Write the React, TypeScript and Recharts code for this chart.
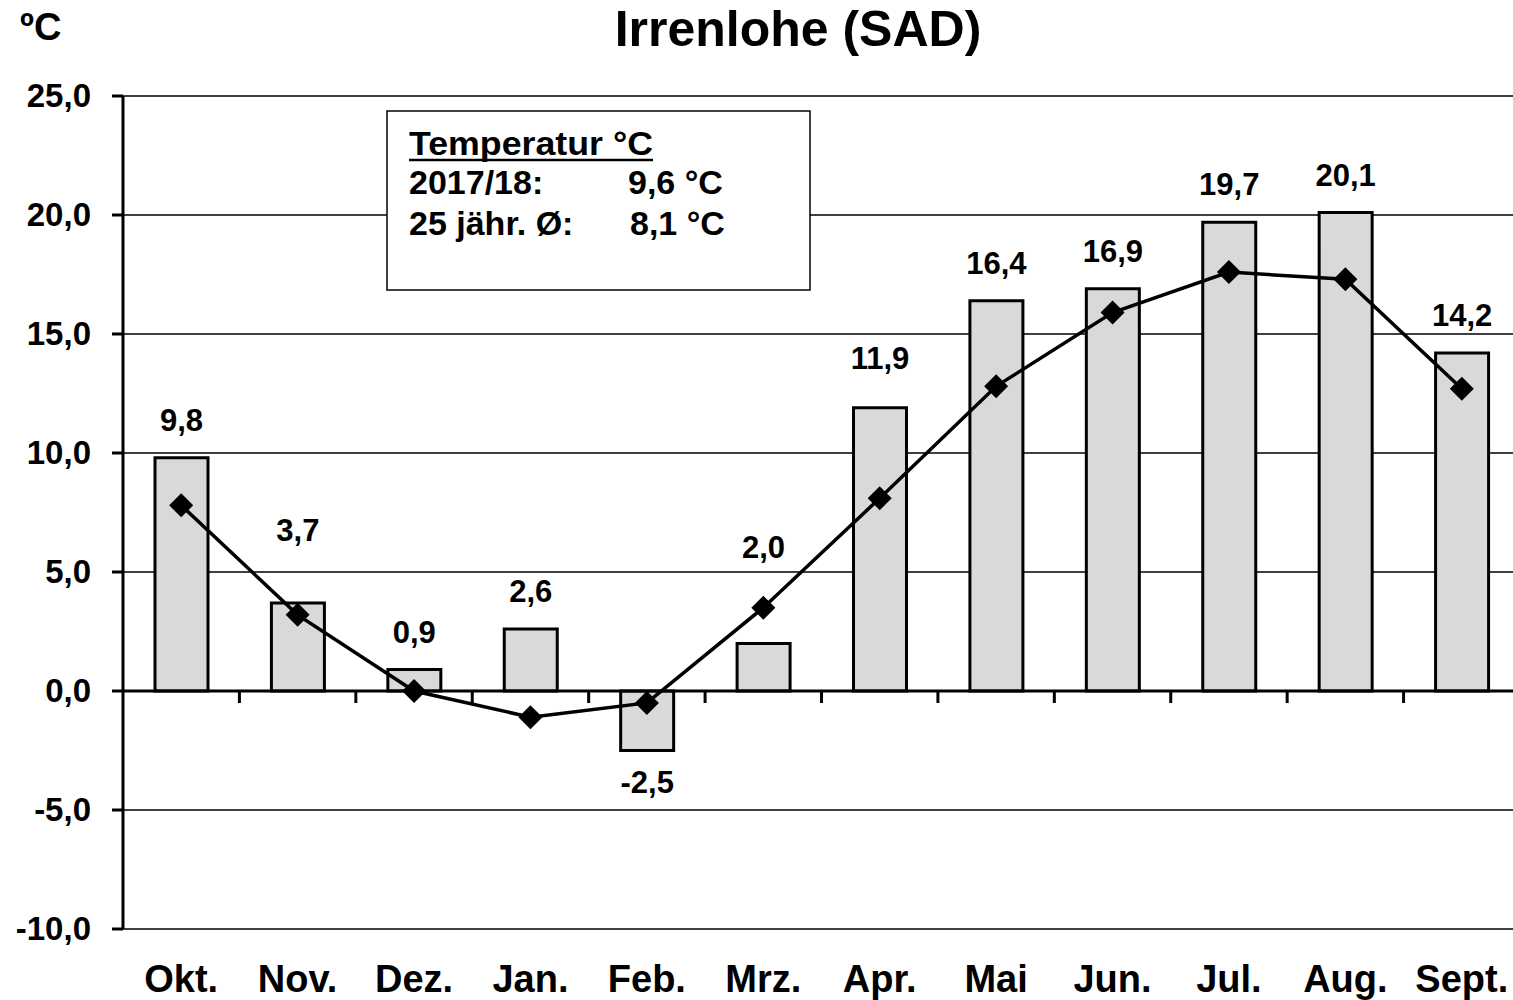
import React from 'react';
import { ComposedChart, Bar, Line, XAxis, YAxis, CartesianGrid, ReferenceLine, LabelList } from 'recharts';

const months = ['Okt.', 'Nov.', 'Dez.', 'Jan.', 'Feb.', 'Mrz.', 'Apr.', 'Mai', 'Jun.', 'Jul.', 'Aug.', 'Sept.'];
const temp1718 = [9.8, 3.7, 0.9, 2.6, -2.5, 2.0, 11.9, 16.4, 16.9, 19.7, 20.1, 14.2];
const avg25 = [7.8, 3.2, 0.0, -1.1, -0.5, 3.5, 8.1, 12.8, 15.9, 17.6, 17.3, 12.7];
const yTicks = [-10, -5, 0, 5, 10, 15, 20, 25];

const data = months.map((m, i) => ({ month: m, year: temp1718[i], avg: avg25[i] }));

const FONT = '"Liberation Sans", Arial, sans-serif';
const fmt = (v: number) => v.toFixed(1).replace('.', ',');

// labels that Excel had nudged upward out of the way of the line
const labelLift: Record<string, number> = { 'Nov.': 73, 'Mrz.': 96, 'Apr.': 50 };

const YTick = (props: any) => {
  const { x, y, payload } = props;
  return (
    <text x={x - 21} y={y + 11} textAnchor="end" fontFamily={FONT} fontWeight="bold" fontSize={33} fill="#000">
      {fmt(payload.value)}
    </text>
  );
};

const XTick = (props: any) => {
  const { x, y, payload } = props;
  return (
    <text x={x} y={y + 63} textAnchor="middle" fontFamily={FONT} fontWeight="bold" fontSize={38} fill="#000">
      {payload.value}
    </text>
  );
};

const ZeroAxis = (props: any) => {
  const { x1, x2, y1 } = props;
  const w = (x2 - x1) / months.length;
  return (
    <g>
      <line x1={x1} x2={x2} y1={y1} y2={y1} stroke="#000" strokeWidth={3} />
      {months.slice(1).map((m, i) => (
        <line key={m} x1={x1 + (i + 1) * w} x2={x1 + (i + 1) * w} y1={y1} y2={y1 + 12} stroke="#000" strokeWidth={3} />
      ))}
    </g>
  );
};

const Diamond = (props: any) => {
  const { cx, cy } = props;
  if (cx == null || cy == null) return null;
  const r = 12;
  return <polygon points={`${cx},${cy - r} ${cx + r},${cy} ${cx},${cy + r} ${cx - r},${cy}`} fill="#000" />;
};

const BarLabel = (props: any) => {
  const { x, y, width, height, value, index } = props;
  const top = Math.min(y, y + height);
  const bottom = Math.max(y, y + height);
  const cx = x + width / 2;
  const cy = value < 0 ? bottom + 31 : top - (labelLift[months[index]] ?? 38);
  return (
    <text x={cx} y={cy + 11} textAnchor="middle" fontFamily={FONT} fontWeight="bold" fontSize={31} fill="#000">
      {fmt(value)}
    </text>
  );
};

export default function App() {
  return (
    <div style={{ position: 'absolute', left: 0, top: 0, width: 1513, height: 1000, overflow: 'hidden', background: '#fff' }}>
      <ComposedChart width={1530} height={1000} data={data} margin={{ top: 96, right: 10, bottom: 0, left: 0 }} barGap={0}>
        <CartesianGrid vertical={false} stroke="#000" strokeWidth={1.5} />
        <XAxis dataKey="month" axisLine={false} tickLine={false} tickSize={0} tickMargin={0} height={71} tick={<XTick />} interval={0} />
        <YAxis
          domain={[-10, 25]}
          ticks={yTicks}
          width={123}
          tickSize={11}
          tickMargin={0}
          axisLine={{ stroke: '#000', strokeWidth: 3 }}
          tickLine={{ stroke: '#000', strokeWidth: 3 }}
          tick={<YTick />}
          allowDataOverflow
        />
        <Bar dataKey="year" fill="#d9d9d9" stroke="#000" strokeWidth={3} barSize={53} isAnimationActive={false}>
          <LabelList dataKey="year" content={<BarLabel />} />
        </Bar>
        <ReferenceLine y={0} shape={<ZeroAxis />} />
        <Line dataKey="avg" stroke="#000" strokeWidth={3.5} dot={<Diamond />} activeDot={false} isAnimationActive={false} />
      </ComposedChart>
      <svg width={1513} height={1000} style={{ position: 'absolute', left: 0, top: 0, pointerEvents: 'none' }}>
        <text x={20} y={40} fontFamily={FONT} fontWeight="bold" fontSize={38} fill="#000">ºC</text>
        <text x={798} y={46} textAnchor="middle" fontFamily={FONT} fontWeight="bold" fontSize={50} fill="#000">Irrenlohe (SAD)</text>
        <rect x={387} y={111} width={423} height={179} fill="#fff" stroke="#000" strokeWidth={1.5} />
        <g fontFamily={FONT} fontWeight="bold" fontSize={34} fill="#000">
          <text x={409} y={155} textLength={244} lengthAdjust="spacingAndGlyphs">Temperatur °C</text>
          <line x1={409} x2={653} y1={160} y2={160} stroke="#000" strokeWidth={2.5} />
          <text x={409} y={194}>2017/18:</text>
          <text x={628} y={194}>9,6 °C</text>
          <text x={409} y={235}>25 jähr. Ø:</text>
          <text x={630} y={235}>8,1 °C</text>
        </g>
      </svg>
    </div>
  );
}
